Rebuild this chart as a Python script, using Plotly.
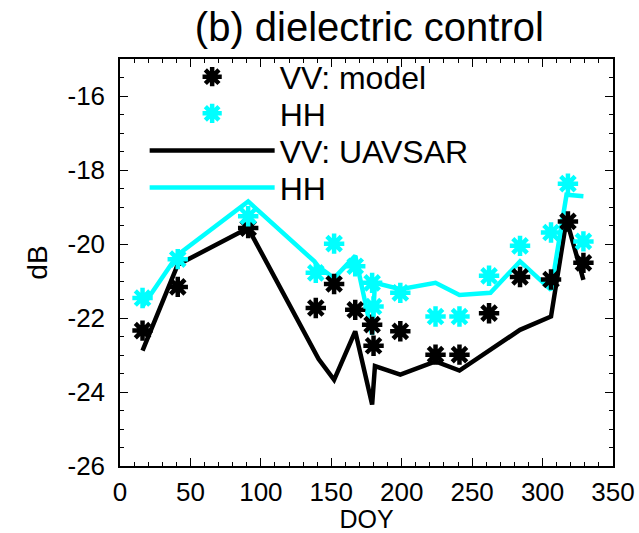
import plotly.graph_objects as go

# UAVSAR observations (lines)
doy_obs = [16, 41, 91, 138, 141, 152, 167, 179, 181, 199, 224, 241, 263, 284, 306, 317, 329]
vv_obs = [-22.88, -20.56, -19.57, -22.86, -23.11, -23.67, -22.36, -24.34, -23.30,
          -23.53, -23.17, -23.42, -22.86, -22.32, -21.96, -19.34, -20.97]
hh_obs = [-21.69, -20.29, -18.85, -20.47, -20.62, -20.92, -20.32, -22.45, -21.05,
          -21.22, -21.05, -21.38, -21.32, -20.47, -21.24, -18.67, -18.71]

# Model (stars)
doy_mod = [16, 41, 91, 139, 152, 167, 179, 180, 199, 224, 241, 262, 284, 306, 318, 329]
vv_mod = [-22.34, -21.16, -19.57, -21.73, -21.08, -21.78, -22.18, -22.75, -22.36,
          -22.99, -22.99, -21.87, -20.89, -20.96, -19.39, -20.51]
hh_mod = [-21.46, -20.41, -19.25, -20.78, -19.99, -20.60, -21.05, -21.69, -21.32,
          -21.96, -21.96, -20.86, -20.05, -19.69, -18.37, -19.93]

# Axis tick labels
y_tickvals = [-26, -24, -22, -20, -18, -16]
y_ticktext = ["-26", "-24", "-22", "-20", "-18", "-16"]
x_tickvals = [0, 50, 100, 150, 200, 250, 300, 350]
x_ticktext = ["0", "50", "100", "150", "200", "250", "300", "350"]

FONT = "Liberation Sans, Arial, Helvetica, sans-serif"
CYAN = "#00FFFF"

fig = go.Figure()
fig.add_trace(go.Scatter(x=doy_obs, y=vv_obs, mode="lines", name="VV: UAVSAR",
                         line=dict(color="black", width=4.5), legend="legend3"))
fig.add_trace(go.Scatter(x=doy_obs, y=hh_obs, mode="lines", name="HH",
                         line=dict(color=CYAN, width=4.5), legend="legend4"))
fig.add_trace(go.Scatter(x=doy_mod, y=vv_mod, mode="markers", name="VV: model",
                         marker=dict(symbol="asterisk-open", size=17, color="black",
                                     line=dict(color="black", width=4.5)), legend="legend"))
fig.add_trace(go.Scatter(x=doy_mod, y=hh_mod, mode="markers", name="HH",
                         marker=dict(symbol="asterisk-open", size=17, color=CYAN,
                                     line=dict(color=CYAN, width=4.5)), legend="legend2"))

axis_common = dict(showline=True, linecolor="black", linewidth=1.5, mirror="allticks",
                   ticks="inside", tickcolor="black", ticklen=8, tickwidth=1,
                   showgrid=False, zeroline=False, automargin=False,
                   tickfont=dict(family=FONT, size=26, color="black"))

fig.update_xaxes(range=[0, 350], tickvals=x_tickvals, ticktext=x_ticktext,
                 minor=dict(dtick=10, tick0=0, ticks="inside", ticklen=4, tickcolor="black", showgrid=False),
                 title=dict(text="DOY", font=dict(family=FONT, size=25, color="black"), standoff=15),
                 ticklabelstandoff=2,
                 **axis_common)
fig.update_yaxes(range=[-26, -15], tickvals=y_tickvals, ticktext=y_ticktext,
                 minor=dict(dtick=0.5, tick0=-26, ticks="inside", ticklen=4, tickcolor="black", showgrid=False),
                 title=dict(text="dB", font=dict(family=FONT, size=28, color="black"), standoff=12),
                 ticklabelstandoff=8,
                 **axis_common)

def leg(yc):
    return dict(x=0.05, y=yc, xanchor="left", yanchor="middle",
                font=dict(family=FONT, size=32, color="black"),
                bgcolor="rgba(0,0,0,0)", itemwidth=125, itemsizing="trace")

fig.update_layout(
    width=639, height=533,
    margin=dict(l=120, r=26, t=59, b=67, autoexpand=False),
    paper_bgcolor="white", plot_bgcolor="white",
    title=dict(text="(b) dielectric control", x=0.578, xanchor="center",
               y=0.95, yanchor="middle", automargin=False,
               font=dict(family=FONT, size=40, color="black")),
    legend=leg(0.956),
    legend2=leg(0.866),
    legend3=leg(0.775),
    legend4=leg(0.684),
    showlegend=True,
)

fig.write_html("out.html")
